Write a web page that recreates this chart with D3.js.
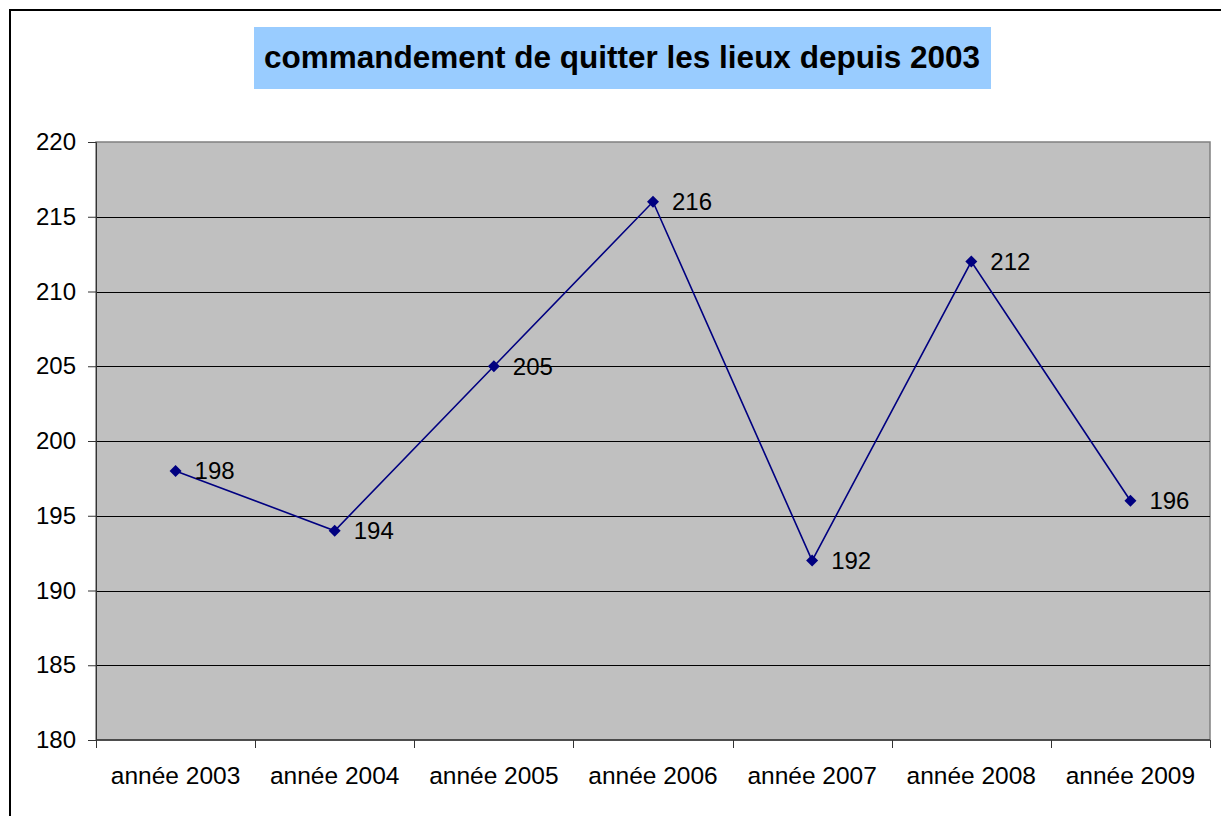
<!DOCTYPE html>
<html>
<head>
<meta charset="utf-8">
<script src="https://cdn.jsdelivr.net/npm/d3@7"></script>
<style>
  body { margin: 0; background: #fff; }
  svg { display: block; font-family: "Liberation Sans", Arial, sans-serif; }
</style>
</head>
<body>
<svg id="chart" width="1221" height="816"></svg>
<script>
const categories = ['année 2003', 'année 2004', 'année 2005', 'année 2006', 'année 2007', 'année 2008', 'année 2009']
const values = [198, 194, 205, 216, 192, 212, 196]
const yTicks = [180, 185, 190, 195, 200, 205, 210, 215, 220]
const title = 'commandement de quitter les lieux depuis 2003'

const svg = d3.select('#chart')
const plot = {left: 96, top: 142, right: 1210, bottom: 740}

// outer chart frame (runs off the right and bottom of the picture)
svg.append('rect')
  .attr('x', 10).attr('y', 10)
  .attr('width', 1240).attr('height', 840)
  .attr('fill', '#fff').attr('stroke', '#000').attr('stroke-width', 2)

const x = d3.scaleBand().domain(categories).range([plot.left, plot.right])
const y = d3.scaleLinear().domain([180, 220]).range([plot.bottom, plot.top])

svg.append('rect')
  .attr('x', plot.left).attr('y', plot.top)
  .attr('width', plot.right - plot.left).attr('height', plot.bottom - plot.top)
  .attr('fill', '#c0c0c0').attr('stroke', '#808080').attr('stroke-width', 1.5)

// gridlines
svg.append('g')
  .selectAll('line')
  .data(yTicks.slice(1, -1))
  .join('line')
  .attr('x1', plot.left).attr('x2', plot.right)
  .attr('y1', (d) => Math.round(y(d)) + 0.5).attr('y2', (d) => Math.round(y(d)) + 0.5)
  .attr('stroke', '#000').attr('stroke-width', 1)

// y axis
const yAxis = svg.append('g')
  .attr('transform', `translate(${plot.left},0)`)
  .call(d3.axisLeft(y).tickValues(yTicks).tickSize(8).tickPadding(12))
yAxis.select('.domain').attr('stroke', '#333')
yAxis.selectAll('.tick line').attr('stroke', '#333')
yAxis.selectAll('text').attr('font-size', 24).attr('fill', '#000')
  .attr('font-family', '"Liberation Sans", Arial, sans-serif')

// x axis, ticks between categories
const xAxis = svg.append('g')
  .attr('transform', `translate(0,${plot.bottom})`)
xAxis.append('line')
  .attr('x1', plot.left).attr('x2', plot.right)
  .attr('stroke', '#333').attr('stroke-width', 1.5)
xAxis.selectAll('line.tk')
  .data(categories.concat(['end']))
  .join('line')
  .attr('class', 'tk')
  .attr('x1', (d, i) => Math.round(plot.left + i * x.step()) + 0.5)
  .attr('x2', (d, i) => Math.round(plot.left + i * x.step()) + 0.5)
  .attr('y1', 0).attr('y2', 8)
  .attr('stroke', '#333')
xAxis.selectAll('text')
  .data(categories)
  .join('text')
  .attr('x', (d) => x(d) + x.bandwidth() / 2)
  .attr('y', 44)
  .attr('text-anchor', 'middle')
  .attr('font-size', 24.5)
  .text((d) => d)

// series line
const pts = categories.map((c, i) => [x(c) + x.bandwidth() / 2, y(values[i])])
svg.append('path')
  .attr('d', d3.line()(pts))
  .attr('fill', 'none')
  .attr('stroke', '#000080')
  .attr('stroke-width', 1.6)

svg.append('g')
  .selectAll('path')
  .data(pts)
  .join('path')
  .attr('transform', (d) => `translate(${d[0]},${d[1]})`)
  .attr('d', 'M0,-6L6,0L0,6L-6,0Z')
  .attr('fill', '#000080')

svg.append('g')
  .selectAll('text')
  .data(values)
  .join('text')
  .attr('x', (d, i) => pts[i][0] + 19)
  .attr('y', (d, i) => pts[i][1] + 8.5)
  .attr('font-size', 24)
  .text((d) => d)

// title box
svg.append('rect')
  .attr('x', 254).attr('y', 27)
  .attr('width', 737).attr('height', 62)
  .attr('fill', '#99ccff')
svg.append('text')
  .attr('x', 622).attr('y', 68)
  .attr('text-anchor', 'middle')
  .attr('font-size', 31.5)
  .attr('font-weight', 'bold')
  .text(title)
</script>
</body>
</html>
